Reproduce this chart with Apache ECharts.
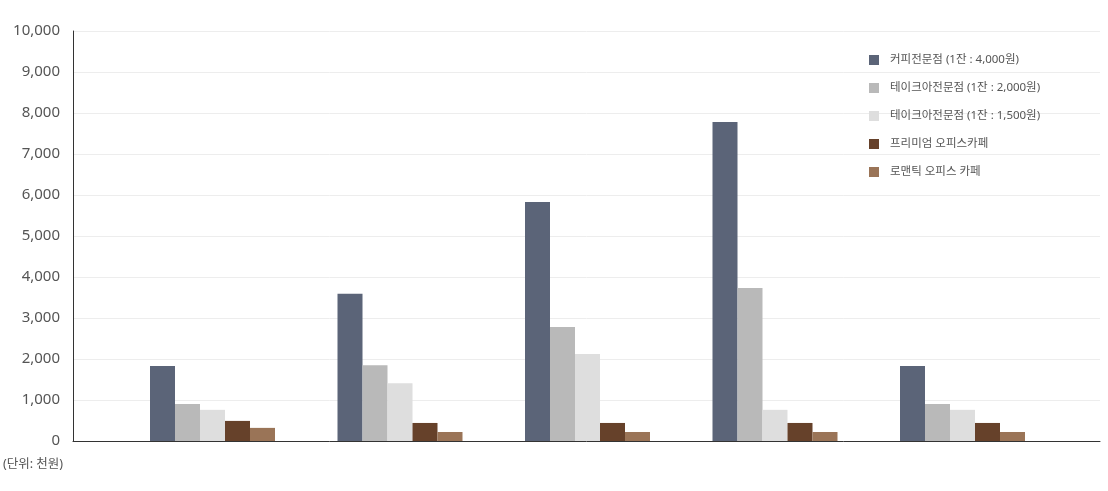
<!DOCTYPE html>
<html><head><meta charset="utf-8">
<script src="https://cdn.jsdelivr.net/npm/echarts@6/dist/echarts.min.js"></script>
<style>html,body{margin:0;padding:0;background:#fff}#c{width:1108px;height:491px}</style>
</head><body><div id="c"></div>
<script>
const categories = ['A', 'B', 'C', 'D', 'E'];
const seriesNames = ['커피전문점 (1잔 : 4,000원)', '테이크아전문점 (1잔 : 2,000원)', '테이크아전문점 (1잔 : 1,500원)', '프리미엄 오피스카페', '로맨틱 오피스 카페'];
const coffeeShop = [1830, 3590, 5830, 7780, 1830];
const takeout2000 = [900, 1850, 2780, 3730, 900];
const takeout1500 = [760, 1410, 2120, 760, 760];
const premiumOffice = [490, 440, 440, 440, 440];
const romanticOffice = [320, 220, 220, 220, 220];
const colors = ['#5b6478', '#b9b9b9', '#dedede', '#66412a', '#9a7457'];
const yTicks = { min: 0, max: 10000, interval: 1000 };
const unitLabel = '(단위: 천원)';

const allData = [coffeeShop, takeout2000, takeout1500, premiumOffice, romanticOffice];
const font = "'Noto Sans', 'Noto Sans CJK KR', sans-serif";
const chart = echarts.init(document.getElementById('c'));
chart.setOption({
  animation: false,
  textStyle: { fontFamily: font },
  grid: [
    { left: 73, right: 8, top: 31, bottom: 50 },
    { left: 118.75, right: 51.75, top: 31, bottom: 50 }
  ],
  xAxis: [
    { gridIndex: 0, type: 'category', data: categories, axisLine: { lineStyle: { color: '#333', width: 1 } }, axisTick: { show: false }, axisLabel: { show: false } },
    { gridIndex: 1, type: 'category', data: categories, show: false }
  ],
  yAxis: [
    { gridIndex: 0, type: 'value', min: yTicks.min, max: yTicks.max, interval: yTicks.interval,
      axisLine: { show: true, lineStyle: { color: '#333', width: 1 } }, axisTick: { show: false },
      axisLabel: { color: '#555', fontSize: 15, margin: 13, fontFamily: font, formatter: v => v.toLocaleString('en-US') },
      splitLine: { lineStyle: { color: '#ededed', width: 1 } } },
    { gridIndex: 1, type: 'value', min: yTicks.min, max: yTicks.max, interval: yTicks.interval, show: false, splitLine: { show: false } }
  ],
  legend: {
    orient: 'vertical', left: 869, top: 54, padding: 0, itemWidth: 10, itemHeight: 10, itemGap: 16,
    icon: 'rect', data: seriesNames,
    textStyle: { color: '#555', fontSize: 11.5, lineHeight: 12, fontFamily: font, padding: [0, 0, 0, 6] }
  },
  graphic: [{ type: 'text', left: 3, top: 458, style: { text: unitLabel, fill: '#555', fontSize: 12.5, fontFamily: font } }],
  series: allData.map((d, i) => ({
    name: seriesNames[i], type: 'bar', xAxisIndex: 1, yAxisIndex: 1, data: d,
    barWidth: 25, barGap: '0%', itemStyle: { color: colors[i] }
  })),
  color: colors
});
</script></body></html>
